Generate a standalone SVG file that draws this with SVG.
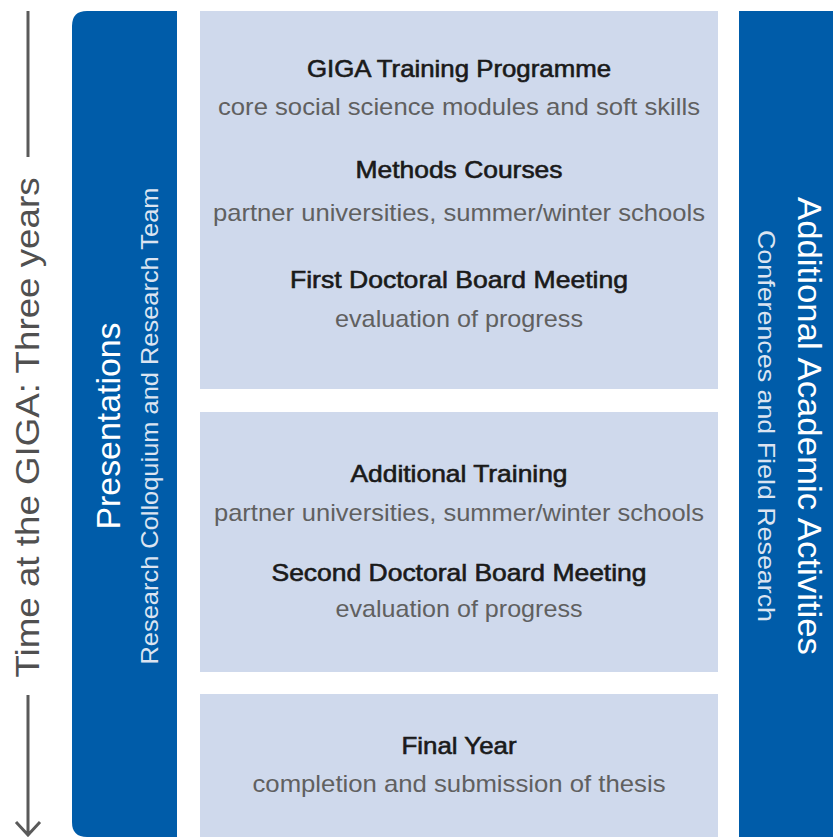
<svg xmlns="http://www.w3.org/2000/svg" width="833" height="837" viewBox="0 0 833 837">
  <style>
    .panel { fill: #005CA9; }
    .box { fill: #CFD9EC; }
    .title { font-family: "Liberation Sans", Arial, sans-serif; font-size: 24px; font-weight: normal; fill: #1a1a1a; stroke: #1a1a1a; stroke-width: 0.6px; text-anchor: middle; }
    .sub { font-family: "Liberation Sans", Arial, sans-serif; font-size: 24px; fill: #606060; text-anchor: middle; }
    .side-big { font-family: "Liberation Sans", Arial, sans-serif; font-size: 34px; fill: #ffffff; text-anchor: middle; }
    .side-small { font-family: "Liberation Sans", Arial, sans-serif; font-size: 24px; fill: #dbe4f1; text-anchor: middle; }
    .time { font-family: "Liberation Sans", Arial, sans-serif; font-size: 34px; fill: #505050; text-anchor: middle; }
    .axis { stroke: #5a5a5a; stroke-width: 3; fill: none; }
  </style>
  <rect width="833" height="837" fill="#ffffff"/>

  <g id="connectors">
    <line class="axis" x1="28" y1="11" x2="28" y2="157"/>
    <path class="axis" d="M28,695 L28,835 M16,822 L28,835 L40,822"/>
    <text class="time" transform="translate(39,427.5) rotate(-90)" textLength="500" lengthAdjust="spacingAndGlyphs">Time at the GIGA: Three years</text>
  </g>

  <g id="presentations">
    <path class="panel" d="M87,11 H177 V837 H87 Q72,837 72,822 V26 Q72,11 87,11 Z"/>
    <text class="side-big" transform="translate(120,426) rotate(-90)" textLength="207" lengthAdjust="spacingAndGlyphs">Presentations</text>
    <text class="side-small" transform="translate(158,426) rotate(-90)" textLength="477" lengthAdjust="spacingAndGlyphs">Research Colloquium and Research Team</text>
  </g>

  <g id="additional-activities">
    <rect class="panel" x="739" y="11" width="94" height="826"/>
    <text class="side-big" transform="translate(798,426) rotate(90)" textLength="458" lengthAdjust="spacingAndGlyphs">Additional Academic Activities</text>
    <text class="side-small" transform="translate(758,426) rotate(90)" textLength="392" lengthAdjust="spacingAndGlyphs">Conferences and Field Research</text>
  </g>

  <g id="year-one">
    <rect class="box" x="200" y="11" width="518" height="378"/>
    <text class="title" x="459" y="77" textLength="304" lengthAdjust="spacingAndGlyphs">GIGA Training Programme</text>
    <text class="sub" x="459" y="115" textLength="482" lengthAdjust="spacingAndGlyphs">core social science modules and soft skills</text>
    <text class="title" x="459" y="178" textLength="207" lengthAdjust="spacingAndGlyphs">Methods Courses</text>
    <text class="sub" x="459" y="221" textLength="492" lengthAdjust="spacingAndGlyphs">partner universities, summer/winter schools</text>
    <text class="title" x="459" y="288" textLength="338" lengthAdjust="spacingAndGlyphs">First Doctoral Board Meeting</text>
    <text class="sub" x="459" y="327" textLength="248" lengthAdjust="spacingAndGlyphs">evaluation of progress</text>
  </g>

  <g id="year-two">
    <rect class="box" x="200" y="412" width="518" height="260"/>
    <text class="title" x="459" y="482" textLength="217" lengthAdjust="spacingAndGlyphs">Additional Training</text>
    <text class="sub" x="459" y="521" textLength="490" lengthAdjust="spacingAndGlyphs">partner universities, summer/winter schools</text>
    <text class="title" x="459" y="581" textLength="375" lengthAdjust="spacingAndGlyphs">Second Doctoral Board Meeting</text>
    <text class="sub" x="459" y="617" textLength="247" lengthAdjust="spacingAndGlyphs">evaluation of progress</text>
  </g>

  <g id="final-year">
    <rect class="box" x="200" y="694" width="518" height="143"/>
    <text class="title" x="459" y="754" textLength="115" lengthAdjust="spacingAndGlyphs">Final Year</text>
    <text class="sub" x="459" y="792" textLength="413" lengthAdjust="spacingAndGlyphs">completion and submission of thesis</text>
  </g>
</svg>
